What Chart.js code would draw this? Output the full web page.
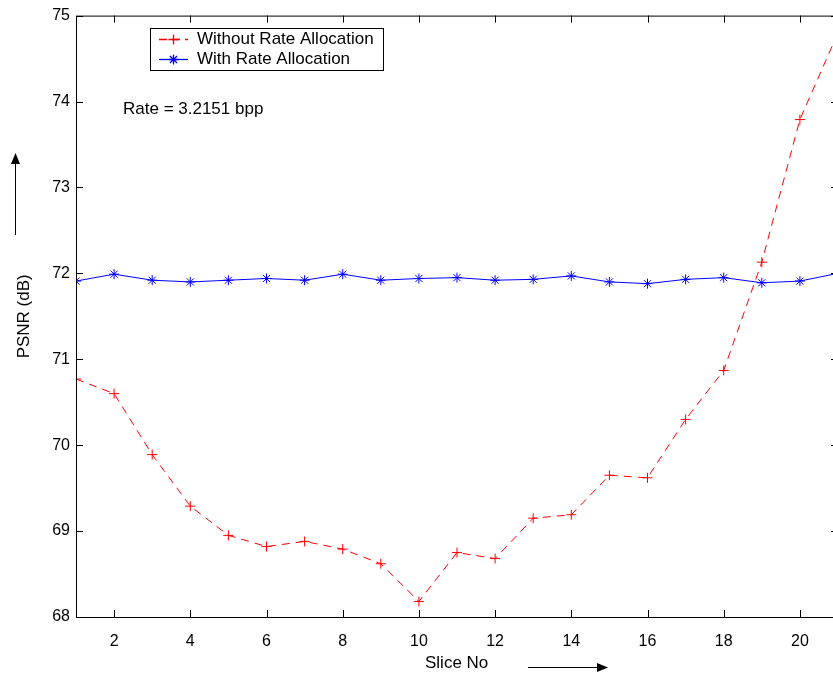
<!DOCTYPE html>
<html>
<head>
<meta charset="utf-8">
<script src="https://cdn.jsdelivr.net/npm/chart.js@4.4.0/dist/chart.umd.min.js"></script>
<style>
  html, body { margin: 0; padding: 0; background: #fff; overflow: hidden; }
  #wrap { position: absolute; left: 0; top: 0; width: 850px; height: 677px; }
</style>
</head>
<body>
<div id="wrap"><canvas id="chart" width="850" height="677"></canvas></div>
<script>
'use strict';

/* Data */
const slices = [1, 2, 3, 4, 5, 6, 7, 8, 9, 10, 11, 12, 13, 14, 15, 16, 17, 18, 19, 20, 21];
const withoutRate = [70.77, 70.60, 69.89, 69.29, 68.95, 68.82, 68.88, 68.79, 68.62, 68.18,
  68.75, 68.68, 69.15, 69.19, 69.65, 69.62, 70.30, 70.87, 72.13, 73.79, 74.80];
const withRate = [71.91, 71.99, 71.92, 71.90, 71.92, 71.94, 71.92, 71.99, 71.92, 71.94,
  71.95, 71.92, 71.93, 71.97, 71.90, 71.88, 71.93, 71.95, 71.89, 71.91, 72.00];
const xTicks = [2, 4, 6, 8, 10, 12, 14, 16, 18, 20];
const yTicks = [68, 69, 70, 71, 72, 73, 74, 75];

const FONT = '"Liberation Sans", Arial, Helvetica, sans-serif';
const TICK_LEN = 7;
const RED = 'rgb(255, 0, 0)';
const BLUE = 'rgb(0, 0, 255)';

/* Draw an arrow with a filled head */
function arrow(ctx, x1, y1, x2, y2) {
  const ang = Math.atan2(y2 - y1, x2 - x1);
  const hl = 11, hw = 4.5;
  const bx = x2 - hl * Math.cos(ang), by = y2 - hl * Math.sin(ang);
  ctx.beginPath();
  ctx.moveTo(x1, y1);
  ctx.lineTo(bx, by);
  ctx.stroke();
  ctx.beginPath();
  ctx.moveTo(x2, y2);
  ctx.lineTo(bx + hw * Math.sin(ang), by - hw * Math.cos(ang));
  ctx.lineTo(bx - hw * Math.sin(ang), by + hw * Math.cos(ang));
  ctx.closePath();
  ctx.fill();
}

/* Legend entries: sample line + marker, drawn in the legend box */
const legendItems = [
  { label: 'Without Rate Allocation', color: RED, dash: [8, 5], style: 'cross' },
  { label: 'With Rate Allocation', color: BLUE, dash: [], style: 'star' },
];

/* Box, inward ticks, titles and note */
const decorations = {
  id: 'decorations',
  afterDatasetsDraw(chart) {
    const { ctx, chartArea: a, scales } = chart;
    ctx.save();
    ctx.strokeStyle = '#000';
    ctx.fillStyle = '#000';
    ctx.lineWidth = 1;
    ctx.setLineDash([]);

    // frame
    ctx.strokeRect(a.left + 0.5, a.top + 0.5, a.right - a.left, a.bottom - a.top);

    // inward ticks
    ctx.beginPath();
    xTicks.forEach(v => {
      const x = Math.round(scales.x.getPixelForValue(v)) + 0.5;
      ctx.moveTo(x, a.bottom); ctx.lineTo(x, a.bottom - TICK_LEN);
      ctx.moveTo(x, a.top); ctx.lineTo(x, a.top + TICK_LEN);
    });
    yTicks.forEach(v => {
      const y = Math.round(scales.y.getPixelForValue(v)) + 0.5;
      ctx.moveTo(a.left, y); ctx.lineTo(a.left + TICK_LEN, y);
      ctx.moveTo(a.right, y); ctx.lineTo(a.right - TICK_LEN, y);
    });
    ctx.stroke();

    // axis titles and arrows
    ctx.font = '17px ' + FONT;
    ctx.textBaseline = 'middle';
    ctx.textAlign = 'left';
    ctx.fillText('Slice No', 425, 663);
    arrow(ctx, 528, 667.5, 608, 667.5);

    ctx.save();
    ctx.translate(24, (a.top + a.bottom) / 2);
    ctx.rotate(-Math.PI / 2);
    ctx.textAlign = 'center';
    ctx.fillText('PSNR (dB)', 0, 0);
    ctx.restore();
    arrow(ctx, 15.5, 235, 15.5, 153);

    // note
    ctx.fillText('Rate = 3.2151 bpp', 123, 109);

    // legend box and labels
    ctx.fillStyle = '#fff';
    ctx.fillRect(150.5, 28.5, 233, 42);
    ctx.strokeRect(150.5, 28.5, 233, 42);
    ctx.fillStyle = '#000';
    legendItems.forEach((it, i) => ctx.fillText(it.label, 197, 39.5 + i * 20));
    ctx.restore();

    // legend samples, drawn in a fresh state
    legendItems.forEach((it, i) => {
      const y = 39.5 + i * 20;
      ctx.save();
      ctx.globalAlpha = 1;
      ctx.globalCompositeOperation = 'source-over';
      ctx.lineWidth = 1.3;
      ctx.strokeStyle = it.color;
      ctx.setLineDash(it.dash);
      ctx.beginPath();
      ctx.moveTo(159, y); ctx.lineTo(188, y);
      ctx.stroke();
      ctx.setLineDash([]);
      const r = 5;
      ctx.beginPath();
      ctx.moveTo(173.5 - r, y); ctx.lineTo(173.5 + r, y);
      ctx.moveTo(173.5, y - r); ctx.lineTo(173.5, y + r);
      if (it.style === 'star') {
        const d = r * Math.SQRT1_2;
        ctx.moveTo(173.5 - d, y - d); ctx.lineTo(173.5 + d, y + d);
        ctx.moveTo(173.5 - d, y + d); ctx.lineTo(173.5 + d, y - d);
      }
      ctx.stroke();
      ctx.restore();
    });
  }
};

const ctx = document.getElementById('chart').getContext('2d');
new Chart(ctx, {
  type: 'line',
  data: {
    labels: slices,
    datasets: [
      {
        label: legendItems[0].label,
        data: slices.map((s, i) => ({ x: s, y: withoutRate[i] })),
        borderColor: RED,
        backgroundColor: RED,
        borderWidth: 1,
        borderDash: [8, 6],
        pointStyle: 'cross',
        pointRadius: 5,
        pointBorderWidth: 1,
        pointBorderColor: RED,
        tension: 0,
        fill: false,
      },
      {
        label: legendItems[1].label,
        data: slices.map((s, i) => ({ x: s, y: withRate[i] })),
        borderColor: BLUE,
        backgroundColor: BLUE,
        borderWidth: 1,
        pointStyle: 'star',
        pointRadius: 5,
        pointBorderWidth: 1,
        pointBorderColor: BLUE,
        tension: 0,
        fill: false,
      },
    ],
  },
  options: {
    responsive: false,
    animation: false,
    layout: { padding: { top: 15, right: 12, left: 0, bottom: 0 } },
    plugins: { legend: { display: false }, tooltip: { enabled: false } },
    scales: {
      x: {
        type: 'linear',
        min: 1,
        max: 21,
        grid: { display: false, drawTicks: false },
        border: { display: false },
        afterBuildTicks: s => { s.ticks = xTicks.map(v => ({ value: v })); },
        afterFit: s => { s.height = 60; },
        ticks: {
          padding: 15,
          color: '#000',
          font: { family: FONT, size: 16 },
          maxRotation: 0,
        },
      },
      y: {
        min: 68,
        max: 75,
        grid: { display: false, drawTicks: false },
        border: { display: false },
        afterBuildTicks: s => { s.ticks = yTicks.map(v => ({ value: v })); },
        afterFit: s => { s.width = 76; },
        ticks: {
          padding: 6,
          color: '#000',
          font: { family: FONT, size: 16 },
        },
      },
    },
  },
  plugins: [decorations],
});
</script>
</body>
</html>
